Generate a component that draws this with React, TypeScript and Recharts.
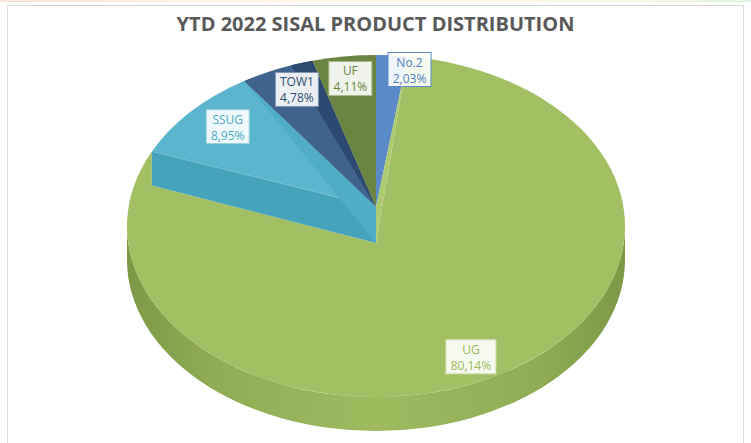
import { PieChart, Pie } from 'recharts'

// YTD 2022 sisal product distribution (shares in %)
const NAMES = ['No.2', 'UG', 'SSUG', 'TOW1', 'UF']
const SHARES = [2.03, 80.14, 8.95, 4.78, 4.11]
const LABELS = ['2,03%', '80,14%', '8,95%', '4,78%', '4,11%']

const TOP_COLORS = ['#5A8AC8', '#A2BF63', '#5BB5CF', '#40638D', '#6C8441']
const WALL_COLORS = ['#4A77B0', '#AECA70', '#46A3BC', '#2C4A71', '#5E7536']
const MID_COLORS = ['#4F80BE', '#98B45A', '#4FADC7', '#34547D', '#657D3B']
const TEXT_COLORS = ['#4F81BD', '#9BBB59', '#4BACC6', '#2F4B70', '#6B853C']
const BORDER_COLORS = ['#5A8AC8', '#D3E2B5', '#8FD0E0', '#7F95B3', '#A9B98A']

const data = NAMES.map((name, i) => ({ name, value: SHARES[i], label: LABELS[i] }))

const W = 751
const H = 443
const CX = 376
const CY = 226
const RX = 249
const RY = 171
const DEPTH = 34
const APEX_HI = CY - 19
const APEX_LO = CY + 17
const BIG = SHARES.indexOf(Math.max(...SHARES))

const RAD = Math.PI / 180

function rim(cx: number, cy: number, a: number, dy = 0) {
  return `${cx + RX * Math.cos(a * RAD)},${cy - RY * Math.sin(a * RAD) + dy}`
}

function arc(cx: number, cy: number, a1: number, a2: number, sweep: number, dy = 0) {
  const large = Math.abs(a1 - a2) > 180 ? 1 : 0
  return `A${RX},${RY} 0 ${large} ${sweep} ${rim(cx, cy, a2, dy)}`
}

// top faces, walls and the front side, drawn from the angles recharts computed
function renderFace(props: any) {
  const { cx, cy, startAngle, endAngle, index } = props
  const hi = `${cx},${APEX_HI}`
  const lo = `${cx},${APEX_LO}`
  const parts: any[] = []

  // front side (only the visible half, math angles 0..-180)
  const s1 = Math.min(startAngle, 0)
  const s2 = Math.max(endAngle, -180)
  if (s1 > s2) {
    parts.push(
      <path
        key="side"
        d={`M${rim(cx, cy, s1)} ${arc(cx, cy, s1, s2, 1)} L${rim(cx, cy, s2, DEPTH)} ${arc(cx, cy, s2, s1, 0, DEPTH)} Z`}
        fill="url(#sideGrad)"
      />,
    )
  }

  if (index === BIG) {
    parts.push(
      <path
        key="top"
        d={`M${lo} L${rim(cx, cy, startAngle)} ${arc(cx, cy, startAngle, endAngle, 1)} L${rim(cx, cy, endAngle, DEPTH)} Z`}
        fill={TOP_COLORS[index]}
      />,
      <path key="wall" d={`M${rim(cx, cy, startAngle)} L${hi} L${lo} Z`} fill={WALL_COLORS[index]} />,
    )
  } else if (index === BIG + 1) {
    parts.push(
      <path
        key="wall"
        d={`M${rim(cx, cy, startAngle)} L${hi} L${lo} L${rim(cx, cy, startAngle, DEPTH)} Z`}
        fill={WALL_COLORS[index]}
      />,
      <path
        key="top"
        d={`M${hi} L${rim(cx, cy, startAngle)} ${arc(cx, cy, startAngle, endAngle, 1)} Z`}
        fill={TOP_COLORS[index]}
      />,
      <path key="mid" d={`M${rim(cx, cy, endAngle)} L${hi} L${lo} Z`} fill={MID_COLORS[index]} />,
    )
  } else {
    parts.push(
      <path
        key="top"
        d={`M${hi} L${rim(cx, cy, startAngle)} ${arc(cx, cy, startAngle, endAngle, 1)} Z`}
        fill={TOP_COLORS[index]}
      />,
    )
    if (index === BIG + 2) {
      const a = endAngle + 0.3 * (startAngle - endAngle)
      parts.push(
        <path key="shade" d={`M${hi} L${rim(cx, cy, a)} ${arc(cx, cy, a, endAngle, 1)} Z`} fill={WALL_COLORS[index]} />,
      )
    }
  }
  return <g key={`face-${index}`}>{parts}</g>
}

function renderLabel(props: any) {
  const { cx, cy, midAngle, index, payload } = props
  const name = payload?.name ?? NAMES[index]
  const pct = payload?.label ?? LABELS[index]
  const w = Math.max(name.length, pct.length) * 7 + 8
  const h = 34
  const c = Math.cos(midAngle * RAD)
  const s = Math.sin(midAngle * RAD)
  let x = cx + RX * 0.8 * c
  let y = cy - RY * 0.87 * s
  if (c > 0 && c < 0.15) {
    // keep clear of the neighbour just left of the top
    x = cx + 12 + w / 2
    y -= 8
  }
  return (
    <g key={`lbl-${index}`}>
      <rect
        x={x - w / 2}
        y={y - h / 2}
        width={w}
        height={h}
        fill="#ffffff"
        fillOpacity={0.9}
        stroke={BORDER_COLORS[index]}
        strokeWidth={1}
      />
      <text x={x} y={y - 3} textAnchor="middle" fontSize={12} fill={TEXT_COLORS[index]} fontFamily="'Open Sans', sans-serif">
        {name}
      </text>
      <text x={x} y={y + 13} textAnchor="middle" fontSize={12} fill={TEXT_COLORS[index]} fontFamily="'Open Sans', sans-serif">
        {pct}
      </text>
    </g>
  )
}

export default function App() {
  return (
    <div style={{ position: 'fixed', left: 0, top: 0, width: W, height: H, overflow: 'hidden', background: '#fff' }}>
      <div
        style={{
          position: 'absolute',
          left: 0,
          top: 0,
          width: W,
          height: 2,
          background: 'linear-gradient(to right, #FBE4DC, #FFF8E2 40%, #FFF8E2 70%, #E3F4E4)',
        }}
      />
      <div
        style={{
          position: 'absolute',
          left: 7,
          top: 5,
          width: 737,
          height: 460,
          border: '1px solid #DCDCDC',
          boxSizing: 'border-box',
        }}
      />
      <div
        style={{
          position: 'absolute',
          left: 0,
          top: 10,
          width: W,
          textAlign: 'center',
          fontFamily: "'Open Sans', sans-serif",
          fontWeight: 700,
          fontSize: 20,
          color: '#595959',
        }}
      >
        YTD 2022 SISAL PRODUCT DISTRIBUTION
      </div>
      <div style={{ position: 'absolute', left: 0, top: 0 }}>
        <PieChart width={W} height={H} margin={{ top: 0, right: 0, bottom: 0, left: 0 }}>
          <defs>
            <linearGradient id="sideGrad" gradientUnits="userSpaceOnUse" x1={CX - RX} y1={0} x2={CX + RX} y2={0}>
              <stop offset="0" stopColor="#7E9946" />
              <stop offset="0.2" stopColor="#92AE55" />
              <stop offset="0.5" stopColor="#9EBA5F" />
              <stop offset="0.8" stopColor="#92AE55" />
              <stop offset="1" stopColor="#7E9946" />
            </linearGradient>
          </defs>
          <Pie
            data={data}
            dataKey="value"
            nameKey="name"
            cx={CX}
            cy={CY}
            outerRadius={RX}
            startAngle={90}
            endAngle={-270}
            fill="#000"
            fillOpacity={0}
            stroke="none"
            label={renderFace}
            labelLine={false}
            isAnimationActive={false}
          />
          <Pie
            data={data}
            dataKey="value"
            nameKey="name"
            cx={CX}
            cy={CY}
            outerRadius={RX}
            startAngle={90}
            endAngle={-270}
            fill="#000"
            fillOpacity={0}
            stroke="none"
            label={renderLabel}
            labelLine={false}
            isAnimationActive={false}
          />
        </PieChart>
      </div>
    </div>
  )
}
